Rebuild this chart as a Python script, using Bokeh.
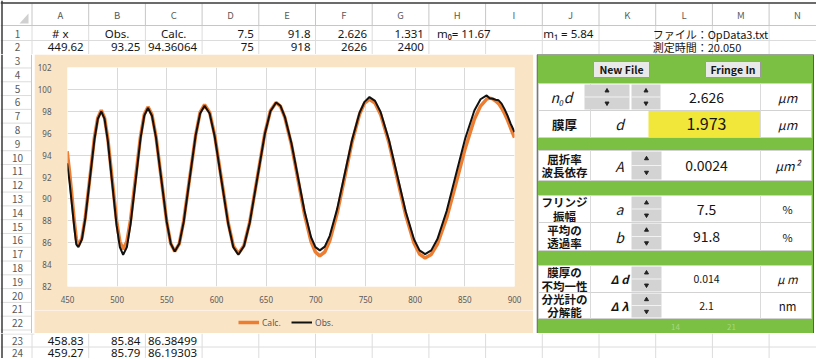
from bokeh.plotting import figure
from bokeh.models import Range1d, Legend, LegendItem, FixedTicker
from bokeh.layouts import column, row
from bokeh.core.properties import value
from bokeh.embed import file_html
from bokeh.resources import INLINE

# ---------------- chart data ----------------
wavelength = [449.62, 452.0, 454.5, 456.8, 458.83, 459.27, 461.0,
              464.5, 467.9, 472.5, 477.1, 480.5, 484.0,
              487.3, 490.6, 495.0, 499.4, 502.7, 506.0,
              509.8, 513.5, 518.5, 523.5, 527.3, 531.0,
              535.0, 539.1, 544.5, 549.9, 554.0, 558.0,
              562.5, 567.0, 573.0, 579.0, 583.5, 588.0,
              593.1, 598.2, 605.0, 611.8, 616.9, 622.0,
              627.7, 633.4, 641.0, 648.6, 654.3, 660.0,
              664.4, 668.8, 675.4, 682.0, 688.6, 695.2, 699.6, 704.0,
              709.0, 714.0, 721.5, 729.0, 736.5, 744.0, 749.0, 754.0,
              759.6, 765.2, 773.6, 782.0, 790.4, 798.8, 804.4, 810.0,
              816.2, 822.4, 831.7, 841.0, 850.3, 859.6, 865.8, 872.0,
              875.0, 878.0, 881.0, 884.0, 887.0, 890.0, 893.0, 896.0, 900.0]
obs = [93.25, 91.6, 89.4, 87.4, 85.84, 85.79, 85.6,
       86.3, 88.2, 91.8, 95.4, 97.3, 98.0,
       97.3, 95.3, 91.45, 87.6, 85.6, 84.9,
       85.6, 87.7, 91.6, 95.5, 97.6, 98.3,
       97.6, 95.6, 91.75, 87.9, 85.9, 85.2,
       85.9, 87.9, 91.85, 95.8, 97.8, 98.5,
       97.8, 95.7, 91.7, 87.7, 85.6, 84.9,
       85.7, 87.8, 91.85, 95.9, 98.0, 98.8,
       98.5, 97.5, 95.1, 92.0, 88.9, 86.5, 85.6, 85.3,
       85.64, 86.63, 89.09, 92.25, 95.4, 97.87, 98.86, 99.3,
       98.95, 97.93, 95.38, 92.13, 88.87, 86.32, 85.3, 84.95,
       85.3, 86.33, 88.9, 92.2, 95.49, 98.07, 99.1, 99.45,
       99.2, 99.15, 99.05, 99.0, 98.7, 98.2, 97.6, 96.9, 96.1]
calc = [94.36, 92.5, 90.2, 88.0, 86.38, 86.19, 85.75,
        86.4, 88.3, 91.9, 95.6, 97.4, 98.1,
        97.4, 95.5, 91.75, 88.0, 86.1, 85.4,
        86.1, 88.1, 91.9, 95.7, 97.7, 98.4,
        97.7, 95.7, 91.8, 87.9, 85.9, 85.2,
        85.9, 88.0, 91.9, 95.8, 97.9, 98.6,
        97.9, 95.8, 91.8, 87.8, 85.7, 85.0,
        85.75, 87.85, 91.9, 95.95, 98.05, 98.8,
        98.45, 97.45, 94.98, 91.8, 88.6, 86.1, 85.15, 84.8,
        85.15, 86.17, 88.7, 91.95, 95.2, 97.73, 98.75, 99.1,
        98.74, 97.72, 95.14, 91.85, 88.56, 85.98, 84.96, 84.6,
        84.93, 85.87, 88.26, 91.37, 94.59, 97.27, 98.48, 99.12,
        99.2, 99.13, 98.94, 98.7, 98.3, 97.8, 97.2, 96.5, 95.6]
x_ticks = [450, 500, 550, 600, 650, 700, 750, 800, 850, 900]
y_ticks = [82, 84, 86, 88, 90, 92, 94, 96, 98, 100, 102]
series_names = ["Calc.", "Obs."]

# ---------------- spreadsheet texts ----------------
col_letters = ["A", "B", "C", "D", "E", "F", "G", "H", "I", "J", "K", "L", "M", "N"]
row1_vals = ["# x", "Obs.", "Calc.", "7.5", "91.8", "2.626", "1.331"]
row2_vals = ["449.62", "93.25", "94.36064", "75", "918", "2626", "2400"]
row23_vals = ["458.83", "85.84", "86.38499"]
row24_vals = ["459.27", "85.79", "86.19303"]
m0_text = "m\u2080= 11.67"
m1_text = "m\u2081 = 5.84"
file_text = "ファイル：OpData3.txt"
time_text = "測定時間：20.050"

buttons = ["New File", "Fringe In"]
panel_labels = [["n\u2080d"], ["膜厚"], ["屈折率", "波長依存"], ["フリンジ", "振幅"],
                ["平均の", "透過率"], ["膜厚の", "不均一性"], ["分光計の", "分解能"]]
panel_symbols = ["", "d", "A", "a", "b", "Δ d", "Δ λ"]
panel_values = ["2.626", "1.973", "0.0024", "7.5", "91.8", "0.014", "2.1"]
panel_units = ["μm", "μm", "μm²", "%", "%", "μ m", "nm"]
footer_vals = ["14", "21"]

# ---------------- layout geometry (window pixels) ----------------
X0, X1 = 0, 816
Y0, YM0, YLG, YM1, Y1 = 0, 54, 310, 333, 358
COLW = 56.7
COL0 = 31.5
col_edges = [COL0 + i * COLW for i in range(15)]
col_centers = [COL0 + (i + 0.5) * COLW for i in range(14)]
ROWH = 13.79
def row_center(r):
    return 33.0 + (r - 1) * ROWH

GRID = "#DCDCDC"
HDR = "#C6C6C6"
TXT = "#151515"
HTXT = "#5A5A5A"
CELL_FONT = value("Noto Sans CJK JP")
NUM_FONT = value("Noto Sans")
BEIGE = "#FAE4C6"
GREEN = "#7BC043"
ORANGE = "#ED7D31"
BLACK = "#111111"


def strip(x0, x1, y0, y1, fill="white"):
    p = figure(width=int(x1 - x0), height=int(y1 - y0),
               x_range=Range1d(x0, x1), y_range=Range1d(y1, y0),
               output_backend="svg", toolbar_location=None, title=None,
               x_axis_location=None, y_axis_location=None, min_border=0,
               background_fill_color=fill, border_fill_color=fill,
               outline_line_color=None, frame_align=False)
    p.grid.visible = False
    return p


def txt(p, xs, ys, texts, size="10px", align="center", color=TXT, style="normal",
        font=CELL_FONT):
    p.text(x=xs, y=ys, text=texts, text_font=font, text_font_size=size,
           text_align=align, text_baseline="middle", text_color=color,
           text_font_style=style)


# ---------------- top strip: column header + rows 1-2 ----------------
top = strip(X0, X1, Y0, YM0)
hdr_bottom = 25
top.segment(x0=col_edges[:-1], y0=[3] * 14, x1=col_edges[:-1], y1=[hdr_bottom] * 14,
            line_color=HDR, line_width=1)
top.segment(x0=col_edges, y0=[hdr_bottom] * 15, x1=col_edges, y1=[YM0] * 15,
            line_color=GRID, line_width=1)
top.segment(x0=[X0], y0=[hdr_bottom], x1=[X1], y1=[hdr_bottom], line_color=HDR)
top.segment(x0=[X0], y0=[40.0], x1=[X1], y1=[40.0], line_color=GRID)
top.segment(x0=[0, 1.5], y0=[2.5, 0], x1=[X1, 1.5], y1=[2.5, YM0], line_color="#3A3A3A",
            line_width=1.5)
top.patch(x=[28, 28, 19], y=[13, 23, 23], fill_color="#D0D0D0", line_color=None)
txt(top, col_centers, [14] * 14, col_letters, size="9.5px", color=HTXT)
txt(top, [17, 17], [row_center(1), row_center(2)], ["1", "2"], size="10px", color=HTXT)
# row 1
r1_right = [c - 5 for c in col_edges[1:8]]
txt(top, col_centers[:3], [row_center(1)] * 3, row1_vals[:3], size="11.5px", font=NUM_FONT)
txt(top, r1_right[3:7], [row_center(1)] * 4, row1_vals[3:7], align="right", size="11.5px",
    font=NUM_FONT)
txt(top, [col_edges[7] + 8], [row_center(1)], [m0_text], align="left", size="11.5px",
    font=NUM_FONT)
txt(top, [col_edges[9] + 1], [row_center(1)], [m1_text], align="left", size="11.5px",
    font=NUM_FONT)
txt(top, [col_edges[11] - 3], [row_center(1)], [file_text], align="left", size="11px")
# row 2
txt(top, r1_right, [row_center(2)] * 7, row2_vals, align="right", size="11.5px",
    font=NUM_FONT)
txt(top, [col_edges[11] - 3], [row_center(2)], [time_text], align="left", size="11px")

# ---------------- left strip: row numbers 3..22 ----------------
left = strip(X0, 34, YM0, YM1)
rows_mid = list(range(3, 23))
edges_mid = [row_center(r) + ROWH / 2 for r in rows_mid]
left.segment(x0=[X0] * len(edges_mid), y0=edges_mid, x1=[31] * len(edges_mid), y1=edges_mid,
             line_color=GRID)
left.segment(x0=[31, 1.5], y0=[YM0, YM0], x1=[31, 1.5], y1=[YM1, YM1],
             line_color=[HDR, "#3A3A3A"], line_width=[1, 1.5])
txt(left, [17] * len(rows_mid), [row_center(r) for r in rows_mid],
    [str(r) for r in rows_mid], size="10px", color=HTXT)

# ---------------- chart ----------------
chart = figure(width=499, height=int(YLG - YM0),
               x_range=Range1d(450, 900), y_range=Range1d(82, 102),
               output_backend="svg", toolbar_location=None, title=None,
               min_border_left=28, min_border_right=19, min_border_top=13,
               min_border_bottom=24, background_fill_color="white",
               border_fill_color=BEIGE, outline_line_color=None, frame_align=False)
chart.line(wavelength, calc, line_color=ORANGE, line_width=3.5)
chart.line(wavelength, obs, line_color=BLACK, line_width=2)
chart.xaxis.ticker = FixedTicker(ticks=x_ticks)
chart.yaxis.ticker = FixedTicker(ticks=y_ticks)
for ax in (chart.xaxis[0], chart.yaxis[0]):
    ax.axis_line_color = None
    ax.major_tick_line_color = None
    ax.minor_tick_line_color = None
    ax.major_label_text_font_size = "8px"
    ax.major_label_text_color = "#595959"
    ax.major_label_text_font = "Noto Sans"
chart.yaxis.major_label_standoff = 10
chart.xaxis.major_label_standoff = 3
chart.grid.grid_line_color = "#D9D9D9"
chart.xgrid.ticker = FixedTicker(ticks=x_ticks)
chart.ygrid.ticker = FixedTicker(ticks=y_ticks)

# legend strip (beige, below the axis labels); its renderers hold no visible points
lgs = strip(34, 533, YLG, YM1, fill=BEIGE)
nan = float("nan")
lc = lgs.line(x=[nan, nan], y=[nan, nan], line_color=ORANGE, line_width=3.5)
lo = lgs.line(x=[nan, nan], y=[nan, nan], line_color=BLACK, line_width=2)
legend = Legend(items=[LegendItem(label=value(series_names[0]), renderers=[lc]),
                       LegendItem(label=value(series_names[1]), renderers=[lo])],
                orientation="horizontal", location=(204, 4),
                background_fill_alpha=0, border_line_color=None,
                label_text_font_size="8.5px", label_text_color="#595959",
                label_text_font="Noto Sans", label_height=14,
                glyph_width=21, glyph_height=12, spacing=9, padding=2,
                margin=0, label_standoff=3)
lgs.add_layout(legend)

# ---------------- gap strip ----------------
gap = strip(533, 536, YM0, YM1)

# ---------------- control panel ----------------
PX0, PX1 = 536, X1
panel = strip(PX0, PX1, YM0, YM1, fill="white")
panel.quad(left=[PX0 + 0.5], right=[813], top=[54], bottom=[333], fill_color=GREEN,
           line_color="#5B5B5B", line_width=1)
# buttons
btn_x = [(593, 649), (705, 760)]
panel.quad(left=[b[0] for b in btn_x], right=[b[1] for b in btn_x], top=[61, 61],
           bottom=[77, 77], fill_color="#E9E9E9", line_color="#9A9A9A")
txt(panel, [(b[0] + b[1]) / 2 for b in btn_x], [69, 69], buttons, size="10.5px",
    style="bold")

bands = [(83, 110), (110, 137), (150, 180), (195, 222), (222, 250), (265, 292), (292, 318)]
WL, WR = 538, 811
panel.quad(left=[WL] * len(bands), right=[WR] * len(bands),
           top=[b[0] for b in bands], bottom=[b[1] for b in bands],
           fill_color="white", line_color="#D2D2D2", line_width=1)
# yellow result cell
panel.quad(left=[648], right=[760], top=[110.5], bottom=[136.5], fill_color="#F0E73A",
           line_color=None)
# cell dividers
for b in bands:
    panel.segment(x0=[590, 760], y0=[b[0]] * 2, x1=[590, 760], y1=[b[1]] * 2,
                  line_color="#DADADA")
# spin buttons
spins = [(584, 629, bands[0]), (631, 660, bands[0])] + [(631, 661, b) for b in bands[2:]]
panel.quad(left=[s[0] for s in spins], right=[s[1] for s in spins],
           top=[s[2][0] + 1 for s in spins], bottom=[s[2][1] - 1 for s in spins],
           fill_color="#D3D3D3", line_color=None)
panel.segment(x0=[s[0] for s in spins], x1=[s[1] for s in spins],
              y0=[(s[2][0] + s[2][1]) / 2 for s in spins],
              y1=[(s[2][0] + s[2][1]) / 2 for s in spins], line_color="#F2F2F2")
panel.scatter(x=[(s[0] + s[1]) / 2 for s in spins],
              y=[s[2][0] + (s[2][1] - s[2][0]) * 0.27 for s in spins],
              marker="triangle", size=4, color="#222222")
panel.scatter(x=[(s[0] + s[1]) / 2 for s in spins],
              y=[s[2][0] + (s[2][1] - s[2][0]) * 0.73 for s in spins],
              marker="inverted_triangle", size=4, color="#222222")
# labels
for i, (b, lab) in enumerate(zip(bands, panel_labels)):
    cy = (b[0] + b[1]) / 2
    if i == 0:
        txt(panel, [561], [cy], lab, size="14px", style="italic")
    elif len(lab) == 1:
        txt(panel, [564], [cy], lab, size="12.5px", style="bold")
    else:
        txt(panel, [564, 564], [cy - 6.8, cy + 6.8], lab, size="11.5px", style="bold")
sym_y = [(b[0] + b[1]) / 2 for b in bands]
txt(panel, [619] * 5, sym_y[1:5], panel_symbols[1:5], size="14px", style="italic")
txt(panel, [619] * 2, sym_y[5:7], panel_symbols[5:7], size="11.5px", style="bold italic")
txt(panel, [706], [sym_y[0]], [panel_values[0]], size="14px")
txt(panel, [706], [sym_y[1]], [panel_values[1]], size="16px")
txt(panel, [706] * 3, sym_y[2:5], panel_values[2:5], size="14px")
txt(panel, [706] * 2, sym_y[5:7], panel_values[5:7], size="10.5px")
txt(panel, [787] * 3, sym_y[:3], panel_units[:3], size="12.5px", style="italic")
txt(panel, [787] * 2, sym_y[3:5], panel_units[3:5], size="11px")
txt(panel, [787], [sym_y[5]], [panel_units[5]], size="11.5px", style="italic")
txt(panel, [787], [sym_y[6]], [panel_units[6]], size="11.5px")
txt(panel, [675, 731], [326, 326], footer_vals, size="8px", color="#A6D77F")

# ---------------- bottom strip: rows 23-24 ----------------
bottom = strip(X0, X1, YM1, Y1)
bottom.segment(x0=col_edges, y0=[YM1] * 15, x1=col_edges, y1=[Y1] * 15, line_color=GRID)
bottom.segment(x0=[X0, X0], y0=[346.5, 333.5], x1=[X1, 34], y1=[346.5, 333.5],
               line_color=GRID)
bottom.segment(x0=[1.5], y0=[YM1], x1=[1.5], y1=[Y1], line_color="#3A3A3A", line_width=1.5)
txt(bottom, [17, 17], [340, 352], ["23", "24"], size="10px", color=HTXT)
txt(bottom, r1_right[:3], [340] * 3, row23_vals, align="right", size="11.5px", font=NUM_FONT)
txt(bottom, r1_right[:3], [352] * 3, row24_vals, align="right", size="11.5px", font=NUM_FONT)

layout = column(top, row(left, column(chart, lgs, spacing=0), gap, panel, spacing=0),
                bottom, spacing=0)
open("out.html", "w").write(file_html(layout, INLINE))
